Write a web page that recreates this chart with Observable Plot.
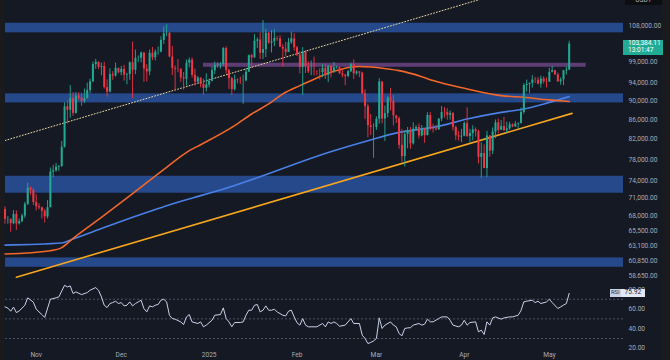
<!DOCTYPE html>
<html><head><meta charset="utf-8">
<script src="https://cdn.jsdelivr.net/npm/d3@7"></script>
<script src="https://cdn.jsdelivr.net/npm/@observablehq/plot@0.6"></script>
<style>
html,body{margin:0;padding:0;background:#151924;}
#chart{position:relative;width:670px;height:360px;overflow:hidden;background:#151924;font-family:Roboto,sans-serif;}
#main,#rsi{position:absolute;left:0;}
#main{top:0;}
#rsi{top:278px;background:#151924;}
.strip{position:absolute;top:0;height:360px;background:#1b1b1e;}
.lbl{position:absolute;font-size:6.6px;line-height:7.4px;white-space:nowrap;}
</style></head>
<body><div id="chart"><div id="main"></div><div id="rsi"></div></div>
<script>
// ---------- data ----------
const startDate = "2024-10-21";
const firstOpen = 69030;
const close = [
67380,67400,66680,68200,66650,67010,67950,69900,72730,72340,
70220,69500,69330,68750,67800,69360,75640,75900,76550,76680,
80370,88700,87950,90500,87300,91050,90600,89850,90450,92300,
94300,98350,98900,97700,97900,93000,91950,95950,95650,97450,
96400,97200,95850,96000,98750,97000,99850,99900,101150,97300,
96600,101100,100000,101400,101400,104300,106050,106150,100200,97450,
97250,97200,95200,94900,98700,99400,95800,94200,95150,93700,
92800,93550,94400,96900,98100,98250,98350,102250,96950,95050,
92500,94700,94550,94500,94500,96550,100500,99950,104100,104450,
101100,102000,106150,103650,103950,104800,104700,102600,102100,101300,
103750,104700,102450,100650,97700,101400,97850,96600,96600,96550,
96500,96450,97450,95800,97900,96650,97550,97600,96150,95800,
95550,96650,98350,96150,96600,96300,91550,88750,84700,84350,
84350,86050,94250,86100,87250,90600,89950,86750,86150,80750,
78550,82900,83700,81050,84000,84350,82600,84050,82700,86850,
84200,84050,83850,86100,87500,87450,86900,87250,84350,82650,
82400,82550,85150,82500,83100,83850,83500,78400,79150,76300,
82600,79600,83400,85300,83750,84550,83650,84050,84900,84450,
85050,85150,87500,93450,93700,93950,94700,94650,93750,94950,
94300,94200,96500,96900,95900,94300,94750,96850,97050,103384.11];
const high = [
69500,67850,67450,68850,68800,67450,68250,70250,73600,72950,
72700,71600,70000,69450,69000,70550,76400,76900,77250,76850,
81500,89600,89950,93450,91800,91850,91800,91700,92650,94000,
94900,98950,99600,98950,98700,98900,94750,97350,96650,98700,
97450,97900,98150,96300,99000,103900,101900,100450,101400,101250,
98300,101900,102550,101900,102650,105250,107800,108350,106450,102800,
98050,99550,97350,96450,99450,99950,99950,97250,95500,95200,
94900,96150,94900,97800,98950,98750,98800,102500,102700,97250,
95350,95850,94950,95350,95850,97350,100650,100850,105850,104950,
106300,109500,107200,106400,106850,107100,105300,105500,103200,103800,
104800,106450,106050,102800,101450,102500,101750,99000,99200,100150,
96900,97350,98350,98500,98150,98100,98850,97950,97750,97050,
96050,96950,98750,99500,96900,96650,96500,92500,89300,87050,
85100,86550,95000,94400,88900,91000,92800,91200,86850,86500,
83950,83600,84350,84350,85300,84700,85100,84750,84100,87450,
87450,85000,84750,86100,88750,88550,88300,87800,87500,84600,
83550,83950,85500,88500,83950,84700,84250,83800,81250,80850,
83550,82700,84250,85900,86100,85800,86450,85450,85450,85100,
85600,85300,88450,93800,94700,94000,95750,95300,95300,95600,
95450,95200,97450,97900,96950,96350,95200,96950,97750,104100];
const low = [
66600,66600,65300,66500,65600,66450,66850,67550,69700,71450,
69700,68800,69000,67450,66800,67450,69300,74600,75600,75750,
76500,80200,85100,86250,86700,87150,90100,88800,89400,90800,
91600,94100,97200,97150,95700,92600,90800,91800,94650,95350,
96150,95700,94450,93600,94650,90500,95950,98850,98750,94200,
94250,95700,99300,99200,100600,101200,103300,105300,100000,95700,
92200,96400,94200,92400,93400,97600,95150,93350,94000,92900,
91300,92000,92900,94250,96000,97500,97250,97900,96100,92500,
91200,92200,93850,93700,89250,94300,96500,97350,99950,102300,
99550,99550,100050,103350,101200,102750,104100,102500,97750,100300,
101300,103300,101600,100300,96150,91250,96200,96200,95700,95650,
95700,94700,95250,94850,94100,95200,96250,97250,96050,95200,
93400,95250,96450,94850,95800,95250,91350,86050,82250,82700,
78250,83750,85050,85100,81500,86350,87800,84650,85150,80000,
77450,76600,80050,79950,80800,83600,82000,82450,81150,82600,
83650,83200,83650,83800,85550,86300,85850,85850,83600,81650,
81600,81300,82450,82300,81200,81650,82350,77150,74500,76250,
74600,78450,78950,82050,83050,83700,83600,83100,83750,84300,
84350,83950,85100,87100,91950,91650,92850,93900,93600,92850,
93750,92900,94150,96350,95750,94150,93500,93400,95850,96900];

// moving averages (day index from startDate, value)
const sma100Day = [0,16,20,24,34,45,57,65,69,81,87,93,98,104,110,116,122,125,135,139,147,151,163,175,183,192,199];
const sma100Val = [61930,62430,62900,64330,67720,71760,76520,79700,80870,84720,87170,89330,91550,93420,95190,96730,97710,97880,97300,96900,95490,94570,92670,91170,90790,90220,89850];
const sma200Day = [0,20,24,34,45,57,69,76,116,128,139,147,151,163,175,183,192,199];
const sma200Val = [63290,63600,64230,65910,67720,69680,71410,72410,79700,81670,83340,84040,84370,86110,87510,88240,89670,90940];

// RSI (14)
const rsiDay = [0,1,2,3,4,5,7,8,10,11,12,13,14,16,18,19,21,22,23,24,25,27,29,30,32,33,34,35,36,37,38,39,40,41,42,43,44,45,46,47,48,49,50,51,52,53,54,55,56,57,58,59,60,62,63,64,65,66,68,69,70,71,73,74,76,77,78,79,80,81,83,84,85,86,87,88,89,90,91,92,93,94,95,96,98,99,100,101,102,103,104,105,106,107,109,110,112,113,114,115,116,117,118,120,122,123,125,126,127,128,129,130,131,132,133,134,136,137,138,139,140,141,142,143,144,146,147,148,149,150,151,153,154,156,157,158,160,161,162,163,164,166,167,168,169,170,171,172,173,175,176,178,179,181,182,183,184,186,187,188,189,191,192,193,195,196,197,198,199];
const rsiVal = [62.2,61,57.8,62,56.4,58,63.9,71.4,67,60,57,54.4,51.4,70,71.4,72.4,84.2,82.5,83.6,75.8,77.5,74.7,76.8,79.2,81.9,79,72.4,63.9,61.5,65.6,66.6,68,65.6,66.6,63.2,63.9,67.3,63.2,65.6,67.3,69,60.5,57.1,63.2,62.2,63.9,64.6,69,70,67.3,53.7,50.3,49.7,46.9,44.2,52,54.4,46.9,45.3,46.9,41.9,43.6,48.6,53.7,54.4,61.2,50.3,46.9,41.9,46.3,46.3,46.9,53.7,58.8,58.8,63.9,64.6,57.1,58.8,63.2,58.8,58.8,59.8,57.1,53.7,53,57.8,58.8,52,46,43.6,50.3,43.6,41.9,41.9,41.9,45.3,41.9,46.9,45.3,46.9,45.3,42.5,43.6,50.3,45.3,45.3,33.4,30,24.9,26,27.5,30,51,40.2,43.6,46.9,43.6,41.9,35.1,32.7,40.2,40.8,41,43.6,45.3,43.6,44.6,49.7,47,47,50.3,52,52,48.6,43.6,41.9,43.6,48.6,43.6,46.3,47,36.8,38.5,34.1,47,43.6,51,52,49.7,51,52,52,53.7,58.5,67.3,68,69,66.6,68,65.6,67.3,70,66.6,60.5,62.2,64,65.6,75.92];
const rsiLevels = [30, 50, 70];

// horizontal zones and trend lines
const bandLo = [106270, 89560, 71830, 59950];
const bandHi = [108790, 91560, 74870, 61340];
const purpleStart = "2024-12-30", purpleEnd = "2025-05-14";
const purpleLo = 97700, purpleHi = 98660;
const trendDates = ["2024-10-25", "2025-05-09"];
const trendVals = [58510, 87300];
const dottedDates = ["2024-10-21", "2025-04-09"];
const dottedVals = [81700, 115900];

// ticks
const priceTicks = [108000,99000,94000,90000,86000,82000,78000,74000,71000,68000,65500,63100,60850,58650];
const rsiTicks = [80, 60, 40, 20];
const monthTickDates = ["2024-11-01","2024-12-01","2025-01-01","2025-02-01","2025-03-01","2025-04-01","2025-05-01"];
const monthLabels = ["Nov","Dec","2025","Feb","Mar","Apr","May"];
const priceLabelText = "103,384.11", countdownText = "13:01:47";

// ---------- build ----------
const DAY = 864e5;
const t0 = Date.parse(startDate);
const dayDate = d => new Date(t0 + d * DAY);
const candles = close.map((c, i) => ({date: dayDate(i), open: i ? close[i-1] : firstOpen, close: c, high: high[i], low: low[i]}));
const UP = "#22ab94", DOWN = "#f23645";
const col = d => d.close >= d.open ? UP : DOWN;
const xDomain = [dayDate(0.17), dayDate(218.16)];
const bands = bandLo.map((lo, i) => ({x1: xDomain[0], x2: xDomain[1], lo, hi: bandHi[i]}));
const purple = [{x1: new Date(purpleStart), x2: new Date(purpleEnd), lo: purpleLo, hi: purpleHi}];
const sma100 = sma100Day.map((d, i) => ({date: dayDate(d), v: sma100Val[i]}));
const sma200 = sma200Day.map((d, i) => ({date: dayDate(d), v: sma200Val[i]}));
const trend = trendDates.map((d, i) => ({date: new Date(d), v: trendVals[i]}));
const dotted = dottedDates.map((d, i) => ({date: new Date(d), v: dottedVals[i]}));
const rsi = rsiDay.map((d, i) => ({date: dayDate(d), v: rsiVal[i]}));
const labelByTime = new Map(monthTickDates.map((d, i) => [+new Date(d), monthLabels[i]]));

const baseStyle = {background: "transparent", color: "#a9acb6", fontSize: "6.6px", fontFamily: "Roboto, sans-serif", overflow: "visible"};

const main = Plot.plot({
  width: 670, height: 278, marginLeft: 5, marginRight: 47, marginTop: 0, marginBottom: 0,
  style: baseStyle,
  x: {type: "utc", domain: xDomain, axis: null, label: null},
  y: {type: "log", domain: [58330, 115000], label: null},
  marks: [
    Plot.rect(bands, {x1: "x1", x2: "x2", y1: "lo", y2: "hi", fill: "#26498b"}),
    Plot.rect(purple, {x1: "x1", x2: "x2", y1: "lo", y2: "hi", fill: "#5e3d74"}),
    Plot.line(dotted, {x: "date", y: "v", stroke: "#e9d9a6", strokeWidth: 1, strokeDasharray: "1,2", clip: true}),
    Plot.line(trend, {x: "date", y: "v", stroke: "#f7a51e", strokeWidth: 1.6}),
    Plot.line(sma200, {x: "date", y: "v", stroke: "#4a7fe6", strokeWidth: 1.6, curve: "monotone-x"}),
    Plot.line(sma100, {x: "date", y: "v", stroke: "#f2672a", strokeWidth: 1.6, curve: "monotone-x"}),
    Plot.ruleX(candles, {x: "date", y1: "low", y2: "high", stroke: col, strokeWidth: 0.9}),
    Plot.ruleX(candles, {x: "date", y1: "open", y2: "close", stroke: col, strokeWidth: 2}),
    Plot.axisY({ticks: priceTicks, anchor: "right", tickSize: 0, tickPadding: 5, tickFormat: d3.format(",.2f"), label: null})
  ]
});
document.getElementById("main").appendChild(main);

const rsiPlot = Plot.plot({
  width: 670, height: 82, marginLeft: 5, marginRight: 47, marginTop: 6, marginBottom: 7.26,
  style: baseStyle,
  x: {type: "utc", domain: xDomain, label: null},
  y: {domain: [15, 85], label: null},
  marks: [
    Plot.ruleY(rsiLevels, {stroke: "#5d6170", strokeDasharray: "2,2", strokeWidth: 0.8}),
    Plot.line(rsi, {x: "date", y: "v", stroke: "#c8d2ea", strokeWidth: 1}),
    Plot.axisY({ticks: rsiTicks, anchor: "right", tickSize: 0, tickPadding: 5, tickFormat: d3.format(".2f"), label: null}),
    Plot.axisX({ticks: monthTickDates.map(d => new Date(d)), tickSize: 0, tickPadding: -0.5, tickFormat: d => labelByTime.get(+d), label: null})
  ]
});
document.getElementById("rsi").appendChild(rsiPlot);

// ---------- overlays positioned by the plot scales ----------
const chart = document.getElementById("chart");
function addDiv(css, html) { const el = document.createElement("div"); el.className = "lbl"; Object.assign(el.style, css); el.innerHTML = html; chart.appendChild(el); return el; }
const lastClose = close[close.length - 1];
const yP = main.scale("y").apply(lastClose);
addDiv({left: "623px", top: (yP - 3.8) + "px", width: "35px", height: "15.7px", padding: "0 0 0 5px", background: UP, color: "#ffffff", boxSizing: "content-box"},
  priceLabelText + "<br>" + countdownText);
const lastRsi = rsiVal[rsiVal.length - 1];
const yR = 278 + rsiPlot.scale("y").apply(lastRsi);
addDiv({left: "610px", top: (yR - 4) + "px", width: "10.7px", height: "7.7px", background: "#c9d2e6", color: "#2a2e39", textAlign: "center", lineHeight: "7.7px", fontSize: "5.8px"}, "RSI");
addDiv({left: "620.7px", top: (yR - 4) + "px", width: "24.3px", height: "7.7px", background: "#e1e7f5", color: "#1e2233", textAlign: "center", lineHeight: "7.7px"}, lastRsi.toFixed(2));
addDiv({left: "625px", top: "-5px", width: "37px", height: "10px", background: "#0d0e12", color: "#b2b5be", textAlign: "center", lineHeight: "10px"}, "USDT");
const s1 = document.createElement("div"); s1.className = "strip"; s1.style.left = "0px"; s1.style.width = "4px"; chart.appendChild(s1);
const s2 = document.createElement("div"); s2.className = "strip"; s2.style.left = "663px"; s2.style.width = "7px"; chart.appendChild(s2);
</script></body></html>
